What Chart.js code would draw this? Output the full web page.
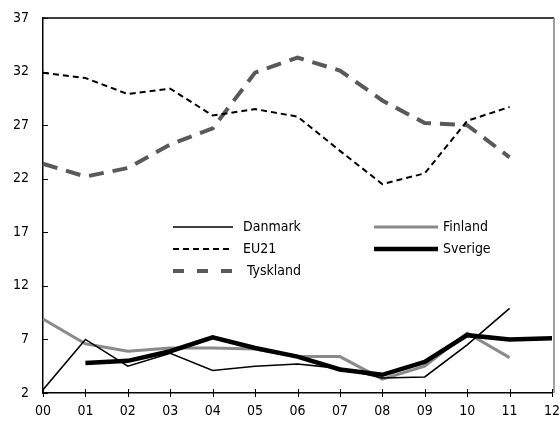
<!DOCTYPE html>
<html>
<head>
<meta charset="utf-8">
<script src="https://cdn.jsdelivr.net/npm/chart.js@4"></script>
<style>
  html, body { margin: 0; padding: 0; background: #fff; }
  #wrap { width: 560px; height: 423px; position: relative; }
</style>
</head>
<body>
<div id="wrap"><canvas id="c"></canvas></div>
<script>
// ── Daten ───────────────────────────────────────────────────────────────────
const years = ['00', '01', '02', '03', '04', '05', '06', '07', '08', '09', '10', '11', '12'];
const yTicks = [2, 7, 12, 17, 22, 27, 32, 37];

const danmark  = [2.3, 7.0, 4.5, 5.7, 4.1, 4.5, 4.7, 4.3, 3.4, 3.5, 6.5, 9.9, null];
const finland  = [8.9, 6.6, 5.9, 6.2, 6.2, 6.1, 5.4, 5.4, 3.3, 4.5, 7.6, 5.3, null];
const eu21     = [31.9, 31.4, 29.9, 30.4, 27.9, 28.5, 27.8, 24.6, 21.5, 22.5, 27.4, 28.7, null];
const sverige  = [null, 4.8, 5.0, 5.9, 7.2, 6.2, 5.4, 4.2, 3.7, 4.9, 7.4, 7.0, 7.1];
const tyskland = [23.4, 22.2, 23.0, 25.2, 26.7, 31.9, 33.3, 32.1, 29.3, 27.2, 27.0, 24.0, null];

const FONT = '"Liberation Sans Narrow", "DejaVu Sans Condensed", sans-serif';

// Stil je Serie; Reihenfolge im Array = Legende
const series = [
  { label: 'Danmark',  data: danmark,  color: '#000',    width: 1.6, dash: [],       order: 1 },
  { label: 'Finland',  data: finland,  color: '#8a8a8a', width: 3,   dash: [],       order: 3 },
  { label: 'EU21',     data: eu21,     color: '#000',    width: 2,   dash: [6, 4],   order: 4 },
  { label: 'Sverige',  data: sverige,  color: '#000',    width: 4.5, dash: [],       order: 2 },
  { label: 'Tyskland', data: tyskland, color: '#595959', width: 4,   dash: [15, 9],  order: 5 },
];

// ── Rahmen, Ticks und Legende von Hand ──────────────────────────────────────
const frame = {
  id: 'frame',
  afterDraw(ch) {
    const { ctx, chartArea: a, scales } = ch;
    ctx.save();
    // oben schwarz, rechts grau
    ctx.lineWidth = 1.5;
    ctx.strokeStyle = '#000';
    ctx.beginPath(); ctx.moveTo(a.left, a.top); ctx.lineTo(a.right + 2, a.top); ctx.stroke();
    ctx.strokeStyle = '#808080';
    ctx.beginPath(); ctx.moveTo(a.right + 2, a.top); ctx.lineTo(a.right + 2, a.bottom); ctx.stroke();
    // y-Ticks nach innen
    ctx.strokeStyle = '#000';
    ctx.lineWidth = 1;
    yTicks.forEach(v => {
      const y = Math.round(scales.y.getPixelForValue(v)) + 0.5;
      ctx.beginPath(); ctx.moveTo(a.left, y); ctx.lineTo(a.left + 5, y); ctx.stroke();
    });
    // x-Ticks ueber die Achse
    years.forEach((_, i) => {
      const x = Math.round(scales.x.getPixelForValue(i)) + 0.5;
      ctx.beginPath(); ctx.moveTo(x, a.bottom - 4); ctx.lineTo(x, a.bottom + 4); ctx.stroke();
    });
    // Legende: zwei Spalten im Plot
    const cols = [{ x0: 173, x1: 233, tx: 243 }, { x0: 374, x1: 438, tx: 443 }];
    const rows = [227, 249, 271];
    ctx.font = '14px ' + FONT;
    ctx.textBaseline = 'middle';
    ctx.textAlign = 'left';
    const place = [[0, 0], [1, 0], [0, 1], [1, 1], [0, 2]];
    series.forEach((s, i) => {
      const [c, r] = place[i];
      const col = cols[c], y = rows[r];
      ctx.strokeStyle = s.color;
      ctx.lineWidth = s.width;
      ctx.setLineDash(s.label === 'Tyskland' ? [11, 13] : s.dash);
      ctx.beginPath(); ctx.moveTo(col.x0, y); ctx.lineTo(col.x1, y); ctx.stroke();
      ctx.setLineDash([]);
      ctx.fillStyle = '#000';
      ctx.fillText(s.label, col.tx + (s.label === 'Tyskland' ? 4 : 0), y);
    });
    ctx.restore();
  },
};

new Chart(document.getElementById('c'), {
  type: 'line',
  data: {
    labels: years,
    datasets: series.map(s => ({
      label: s.label, data: s.data, borderColor: s.color, borderWidth: s.width,
      borderDash: s.dash, pointRadius: 0, fill: false, tension: 0, order: s.order,
      spanGaps: false, borderCapStyle: 'butt', borderJoinStyle: 'miter',
    })),
  },
  options: {
    responsive: true, maintainAspectRatio: false, animation: false,
    layout: { padding: { top: 18, left: 0, right: 0, bottom: 0 } },
    scales: {
      x: {
        offset: false,
        grid: { display: false, drawTicks: false },
        border: { color: '#000', width: 1.5 },
        ticks: { color: '#000', padding: 10, maxRotation: 0, autoSkip: false,
                 font: { family: FONT, size: 14 } },
        afterFit(s) { s.height = 30; s.paddingRight = 8; s.paddingLeft = 0; },
      },
      y: {
        min: 2, max: 37,
        afterBuildTicks(s) { s.ticks = yTicks.map(v => ({ value: v })); },
        grid: { display: false, drawTicks: false },
        border: { color: '#000', width: 1.5 },
        ticks: { color: '#000', padding: 14, font: { family: FONT, size: 14 } },
        afterFit(s) { s.width = 43; s.paddingTop = 0; s.paddingBottom = 0; },
      },
    },
    plugins: { legend: { display: false }, tooltip: { enabled: false } },
  },
  plugins: [frame],
});
</script>
</body>
</html>
